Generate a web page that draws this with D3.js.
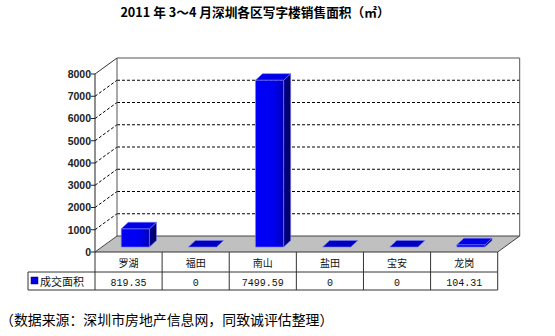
<!DOCTYPE html>
<html>
<head>
<meta charset="utf-8">
<script src="https://cdn.jsdelivr.net/npm/d3@7"></script>
<style>
  html, body { margin: 0; padding: 0; background: #fff; }
  svg { display: block; }
</style>
</head>
<body>
<script>
// 2011年3～4月深圳各区写字楼销售面积
const categories = ["罗湖", "福田", "南山", "盐田", "宝安", "龙岗"];
const values = [819.35, 0, 7499.59, 0, 0, 104.31];
const valueLabels = ["819.35", "0", "7499.59", "0", "0", "104.31"];
const yTicks = [0, 1000, 2000, 3000, 4000, 5000, 6000, 7000, 8000];
const seriesName = "成交面积";
const titleText = "2011 年 3～4 月深圳各区写字楼销售面积（㎡）";
const sourceText = "（数据来源：深圳市房地产信息网，同致诚评估整理）";

const W = 555, H = 336;
const svg = d3.select("body").append("svg").attr("width", W).attr("height", H);

// plot geometry (front plane + depth vector of the 3D box)
const x0 = 95, x1 = 497.7;
const y0 = 252, yTop = 74;
const depth = [22, -16];
const barFront = [6.8, -5];     // bar front face offset into the box
const barDepth = [7, -6.5];     // bar thickness in depth

const y = d3.scaleLinear().domain([0, 8000]).range([y0, yTop]);
const xCol = d3.scaleBand().domain(categories).range([x0, x1]).paddingInner(0).paddingOuter(0);
const xBar = d3.scaleBand().domain(categories).range([x0, x1]).paddingInner(0.58).paddingOuter(0.29);

const defs = svg.append("defs");
const gFront = defs.append("linearGradient").attr("id", "gFront");
gFront.append("stop").attr("offset", "0%").attr("stop-color", "#0000f8");
gFront.append("stop").attr("offset", "65%").attr("stop-color", "#0000f0");
gFront.append("stop").attr("offset", "100%").attr("stop-color", "#0000b8");
const gSide = defs.append("linearGradient").attr("id", "gSide");
gSide.append("stop").attr("offset", "0%").attr("stop-color", "#000090");
gSide.append("stop").attr("offset", "100%").attr("stop-color", "#00005a");

const line = d3.line();
const pt = (p, d) => [p[0] + d[0], p[1] + d[1]];

// floor
svg.append("path")
  .attr("d", line([[x0, y0], pt([x0, y0], depth), pt([x1, y0], depth), [x1, y0]]) + "Z")
  .attr("fill", "#c0c0c0");

// back wall gridlines (dashed) and side wall diagonals
const grid = svg.append("g");
yTicks.forEach(t => {
  const yy = y(t);
  if (t > 0 && t < 8000) {
    grid.append("line")
      .attr("x1", x0 + depth[0]).attr("x2", x1 + depth[0])
      .attr("y1", yy + depth[1]).attr("y2", yy + depth[1])
      .attr("stroke", "#000").attr("stroke-width", 1).attr("stroke-dasharray", "3,2");
  }
  if (t > 0) {
    grid.append("line")
      .attr("x1", x0).attr("y1", yy)
      .attr("x2", x0 + depth[0]).attr("y2", yy + depth[1])
      .attr("stroke", t === 8000 ? "#333" : "#000").attr("stroke-width", 1)
      .attr("stroke-dasharray", t === 8000 ? null : "3,2");
  }
});

// box frame
const frame = svg.append("g").attr("fill", "none").attr("stroke-width", 1);
const bl = pt([x0, y0], depth), br = pt([x1, y0], depth);
const tl = pt([x0, yTop], depth), tr = pt([x1, yTop], depth);
frame.append("path").attr("d", line([bl, tl, tr, br])).attr("stroke", "#555");
frame.append("path").attr("d", line([[x0, y0], bl, br, [x1, y0]])).attr("stroke", "#444");

// vertical axis
const ax = svg.append("g");
ax.append("line").attr("x1", x0).attr("x2", x0).attr("y1", yTop).attr("y2", y0)
  .attr("stroke", "#222");
yTicks.forEach(t => {
  ax.append("line").attr("x1", x0 - 4).attr("x2", x0).attr("y1", y(t)).attr("y2", y(t))
    .attr("stroke", "#222");
  ax.append("text").attr("x", x0 - 4).attr("y", y(t)).attr("dy", "0.36em")
    .attr("text-anchor", "end")
    .attr("font-family", "'Liberation Sans', Arial, sans-serif")
    .attr("font-weight", "bold").attr("font-size", "10.5px").attr("fill", "#222")
    .text(t);
});

// bars
const bars = svg.append("g").attr("stroke", "#7a7aff").attr("stroke-width", 0.6)
  .attr("stroke-linejoin", "round");
categories.forEach((c, i) => {
  const v = values[i];
  const xl = xBar(c) + barFront[0];
  const xr = xl + xBar.bandwidth();
  const yb = y(0) + barFront[1];
  const yt = y(v) + barFront[1];
  const fl = [xl, yt], fr = [xr, yt], frb = [xr, yb];
  const bl2 = pt(fl, barDepth), br2 = pt(fr, barDepth), brb = pt(frb, barDepth);
  if (v > 0) {
    bars.append("path").attr("d", line([[xl, yb], fl, fr, frb]) + "Z")
      .attr("fill", "url(#gFront)");
    bars.append("path").attr("d", line([frb, fr, br2, brb]) + "Z")
      .attr("fill", "url(#gSide)");
  }
  bars.append("path").attr("d", line([fl, bl2, br2, fr]) + "Z")
    .attr("fill", v > 0 ? "#0000e6" : "#0000c0");
});

// data table
const rowTop = y0, rowMid = 272, rowBot = 290, legX = 28;
const tbl = svg.append("g").attr("stroke", "#333").attr("stroke-width", 1).attr("fill", "none");
tbl.append("line").attr("x1", x0).attr("x2", x1).attr("y1", rowTop).attr("y2", rowTop);
tbl.append("line").attr("x1", legX).attr("x2", x1).attr("y1", rowMid).attr("y2", rowMid);
tbl.append("line").attr("x1", legX).attr("x2", x1).attr("y1", rowBot).attr("y2", rowBot);
tbl.append("line").attr("x1", legX).attr("x2", legX).attr("y1", rowMid).attr("y2", rowBot);
categories.forEach(c => {
  tbl.append("line").attr("x1", xCol(c)).attr("x2", xCol(c)).attr("y1", rowTop).attr("y2", rowBot);
});
tbl.append("line").attr("x1", x1).attr("x2", x1).attr("y1", rowTop).attr("y2", rowBot);

const cjk = "'Noto Sans CJK SC', 'Noto Sans', sans-serif";
categories.forEach((c, i) => {
  const cx = xCol(c) + xCol.bandwidth() / 2;
  svg.append("text").attr("x", cx).attr("y", (rowTop + rowMid) / 2 + 1).attr("dy", "0.35em")
    .attr("text-anchor", "middle").attr("font-family", cjk).attr("font-size", "10px")
    .attr("fill", "#111").text(c);
  svg.append("text").attr("x", cx).attr("y", (rowMid + rowBot) / 2 + 1).attr("dy", "0.35em")
    .attr("text-anchor", "middle").attr("font-family", "'Liberation Mono', 'DejaVu Sans Mono', monospace")
    .attr("font-size", "10px").attr("fill", "#111").text(valueLabels[i]);
});

// legend key in table
svg.append("rect").attr("x", 31).attr("y", 277).attr("width", 7).attr("height", 7)
  .attr("fill", "#0000e0").attr("stroke", "#000080").attr("stroke-width", 0.5);
svg.append("text").attr("x", 40).attr("y", (rowMid + rowBot) / 2 + 1).attr("dy", "0.35em")
  .attr("font-family", cjk).attr("font-size", "11px").attr("fill", "#111").text(seriesName);

// title
svg.append("text").attr("x", 255).attr("y", 17).attr("text-anchor", "middle")
  .attr("font-family", cjk).attr("font-weight", "bold").attr("font-size", "12.7px")
  .attr("fill", "#000").text(titleText);

// source note
svg.append("text").attr("x", 0).attr("y", 325)
  .attr("font-family", cjk).attr("font-size", "13.9px").attr("fill", "#000").text(sourceText);
</script>
</body>
</html>
